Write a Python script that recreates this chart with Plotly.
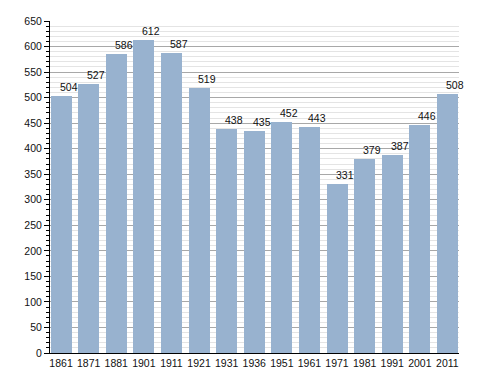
import plotly.graph_objects as go

years = ["1861", "1871", "1881", "1901", "1911", "1921", "1931", "1936",
         "1951", "1961", "1971", "1981", "1991", "2001", "2011"]
population = [504, 527, 586, 612, 587, 519, 438, 435, 452, 443, 331, 379, 387, 446, 508]

y_ticks = list(range(0, 651, 50))

fig = go.Figure()
fig.add_trace(go.Bar(
    x=list(range(len(years))), y=population,
    width=0.76,
    marker=dict(color="#98b2cf", line=dict(width=0)),
    hoverinfo="skip",
))

for i, v in enumerate(population):
    fig.add_annotation(x=i, y=v, text=str(v), showarrow=False,
                       yanchor="bottom", xshift=7.5, yshift=1,
                       font=dict(family="Liberation Sans, Arial", size=10.5, color="#111"))

fig.update_layout(
    width=480, height=365,
    margin=dict(l=42, r=29, t=13, b=20, autoexpand=False),
    paper_bgcolor="white", plot_bgcolor="white",
    showlegend=False,
    bargap=0,
    font=dict(family="Liberation Sans, Arial", size=10.5, color="#111"),
)
fig.update_xaxes(
    tickmode="array", tickvals=list(range(len(years))), ticktext=years,
    range=[-0.4, 14.42], showgrid=False, zeroline=False, automargin=False,
    showline=True, linecolor="black", linewidth=1,
    ticks="", tickfont=dict(size=10.5),
)
fig.update_yaxes(
    range=[0, 650], tickvals=y_ticks, showgrid=True, gridcolor="#a8a8a8", gridwidth=1,
    zeroline=False, showline=True, linecolor="black", linewidth=1, automargin=False,
    ticks="outside", ticklen=5, tickcolor="black", tickfont=dict(size=10.5),
    minor=dict(dtick=10, tick0=0, showgrid=True, gridcolor="#e4e4e4", gridwidth=1,
               ticks="outside", ticklen=3, tickcolor="black"),
)

fig.write_html("out.html")
